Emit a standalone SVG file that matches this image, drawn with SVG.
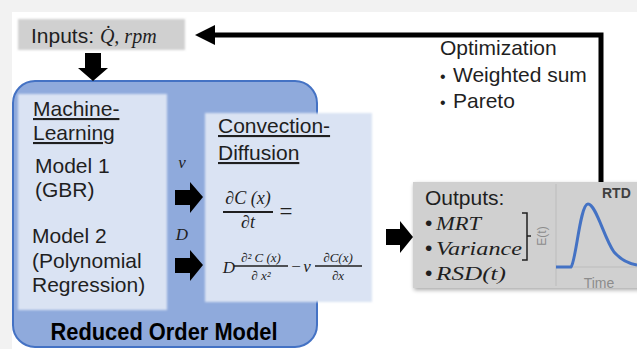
<svg xmlns="http://www.w3.org/2000/svg" width="637" height="349" viewBox="0 0 637 349">
<style>
.t{font-family:"Liberation Sans",Arial,sans-serif;font-size:21px;fill:#1f1f1f}
.u{text-decoration:underline}
.m{font-family:"Liberation Serif","Times New Roman",serif;font-style:italic;fill:#1f1f1f}
.arrow{fill:#000}
.line{stroke:#000;stroke-width:5;fill:none}
</style>
<defs>
<filter id="sh" x="-10%" y="-10%" width="130%" height="130%">
<feGaussianBlur in="SourceAlpha" stdDeviation="2"/>
<feOffset dx="1" dy="2"/>
<feComponentTransfer><feFuncA type="linear" slope="0.35"/></feComponentTransfer>
<feMerge><feMergeNode/><feMergeNode in="SourceGraphic"/></feMerge>
</filter>
<filter id="soft" x="-5%" y="-5%" width="110%" height="110%">
<feGaussianBlur stdDeviation="1.2"/>
</filter>
</defs>
<rect x="0" y="0" width="637" height="349" fill="#f2f2f2"/>
<rect x="12" y="12" width="625" height="337" fill="#ffffff"/>

<g id="inputs">
<rect x="18" y="19" width="167" height="31" fill="#d0d0d0" filter="url(#soft)"/>
<text class="t" x="31" y="43">Inputs: <tspan class="m" font-size="20">Q̇</tspan><tspan class="m" font-size="20">, rpm</tspan></text>
</g>

<g id="rom">
<rect x="13" y="81" width="304" height="266" rx="22" ry="22" fill="#8faadc" stroke="#4472c4" stroke-width="2"/>
<text x="164" y="340" text-anchor="middle" font-family="'Liberation Sans',Arial,sans-serif" font-weight="bold" font-size="24" fill="#000" textLength="227" lengthAdjust="spacingAndGlyphs">Reduced Order Model</text>
</g>

<g id="ml">
<rect x="18" y="94" width="149" height="216" fill="#dae3f3" filter="url(#soft)"/>
<text class="t u" x="33" y="116">Machine-</text>
<text class="t u" x="33" y="140">Learning</text>
<text class="t" x="35" y="173">Model 1</text>
<text class="t" x="35" y="197">(GBR)</text>
<text class="t" x="32" y="243">Model 2</text>
<text class="t" x="32" y="268">(Polynomial</text>
<text class="t" x="32" y="292">Regression)</text>
</g>

<g id="cd">
<rect x="205" y="113" width="167" height="189" fill="#dae3f3" filter="url(#soft)"/>
<text class="t u" x="218" y="133">Convection-</text>
<text class="t u" x="218" y="160">Diffusion</text>
<text class="m" x="248" y="204" font-size="18" text-anchor="middle">∂C (x)</text>
<line x1="223" y1="212" x2="273" y2="212" stroke="#1f1f1f" stroke-width="1.8"/>
<text class="m" x="248" y="228" font-size="18" text-anchor="middle">∂t</text>
<text x="286" y="219" font-family="'Liberation Serif',serif" font-size="23" fill="#1f1f1f" text-anchor="middle">=</text>
<text class="m" x="229" y="273" font-size="17" text-anchor="middle">D</text>
<text class="m" x="261" y="262" font-size="13" text-anchor="middle">∂² C (x)</text>
<line x1="234" y1="266" x2="288" y2="266" stroke="#1f1f1f" stroke-width="1.4"/>
<text class="m" x="261" y="280" font-size="13" text-anchor="middle">∂ x²</text>
<text x="296" y="272" font-family="'Liberation Serif',serif" font-size="17" fill="#1f1f1f" text-anchor="middle">−</text>
<text class="m" x="307" y="272" font-size="17" text-anchor="middle">v</text>
<text class="m" x="338" y="262" font-size="13" text-anchor="middle">∂C(x)</text>
<line x1="315" y1="266" x2="362" y2="266" stroke="#1f1f1f" stroke-width="1.4"/>
<text class="m" x="338" y="280" font-size="13" text-anchor="middle">∂x</text>
</g>

<g id="outputs">
<rect x="413" y="182" width="230" height="106" fill="#d0d0d0" filter="url(#sh)"/>
<line x1="556" y1="184" x2="556" y2="286" stroke="#bcbcbc" stroke-width="1"/>
<text class="t" x="425" y="205">Outputs:</text>
<text class="t" x="425" y="230" font-size="16">•</text>
<text class="m" x="436" y="230" font-size="19" textLength="45" lengthAdjust="spacingAndGlyphs">MRT</text>
<text class="t" x="425" y="255" font-size="16">•</text>
<text class="m" x="436" y="255" font-size="19" textLength="86" lengthAdjust="spacingAndGlyphs">Variance</text>
<text class="t" x="425" y="280" font-size="16">•</text>
<text class="m" x="436" y="280" font-size="19" textLength="70" lengthAdjust="spacingAndGlyphs">RSD(t)</text>
<path d="M522,213 H527 V260 H522 M527,236 H531" stroke="#1f1f1f" stroke-width="1.5" fill="none"/>
<text x="546" y="236" font-family="'Liberation Sans',Arial,sans-serif" font-size="12" fill="#8c8c8c" text-anchor="middle" transform="rotate(-90 546 236)">E(t)</text>
<line x1="556" y1="267" x2="637" y2="267" stroke="#bcbcbc" stroke-width="1"/>
<path d="M556,267 L571,267 C576,262 580,204 588,204 C596,204 604,238 614,252 C622,261 630,264 637,265" stroke="#4472c4" stroke-width="3" fill="none"/>
<text x="602" y="198" font-family="'Liberation Sans',Arial,sans-serif" font-weight="bold" font-size="14" fill="#404040">RTD</text>
<text x="599" y="288" font-family="'Liberation Sans',Arial,sans-serif" font-size="14" fill="#8c8c8c" text-anchor="middle">Time</text>
</g>

<g id="optimization">
<text class="t" x="440" y="55">Optimization</text>
<text class="t" x="440" y="82"><tspan font-size="16">•</tspan><tspan x="453">Weighted sum</tspan></text>
<text class="t" x="440" y="108"><tspan font-size="16">•</tspan><tspan x="453">Pareto</tspan></text>
</g>

<g id="connectors">
<polygon class="arrow" points="85,53 101,53 101,68 108,68 93,81 78,68 85,68"/>
<text class="m" x="182" y="168" font-size="17" text-anchor="middle">v</text>
<polygon class="arrow" points="175,190 190,190 190,182 203,197 190,213 190,205 175,205"/>
<text class="m" x="182" y="240" font-size="17" text-anchor="middle">D</text>
<polygon class="arrow" points="175,258 190,258 190,250 203,265 190,281 190,273 175,273"/>
<polygon class="arrow" points="386,229 400,229 400,221 413,237 400,253 400,245 386,245"/>
<polyline class="line" points="601,182 601,35 212,35"/>
<polygon class="arrow" points="195,35 215,25 215,45"/>
</g>
</svg>
